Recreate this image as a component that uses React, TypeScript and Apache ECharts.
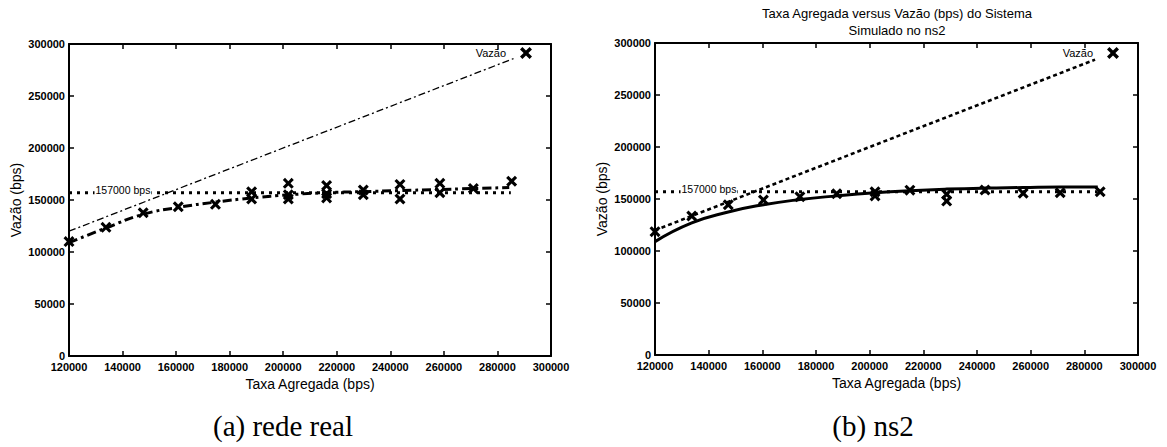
import React, { useEffect, useRef } from "react";
import * as echarts from "echarts";

// ---- data ----
const xTicksMin = 120000;
const xTicksMax = 300000;
const yMax = 300000;

// (a) rede real: measured throughput points
const realX = [120000, 133800, 147700, 160800, 174700, 188200, 188200, 201900, 201900, 201900, 216200, 216200, 216200, 229900, 229900, 243600, 243600, 258500, 258500, 271000, 285300];
const realY = [110000, 123700, 137800, 143500, 145800, 158000, 151000, 166000, 155000, 151000, 164000, 156000, 152000, 159600, 155000, 165000, 151000, 166000, 157000, 161000, 168000];
// (a) fitted curve
const realFitX = [120000, 133700, 147400, 161100, 174800, 188500, 202200, 215900, 229600, 243300, 257000, 270700, 284400];
const realFitY = [109000, 123000, 136000, 143000, 148000, 152000, 155000, 157000, 158000, 159000, 160000, 161000, 162000];

// (b) ns2: simulated throughput points
const simX = [120000, 133700, 147300, 160400, 174000, 187700, 202000, 202000, 215000, 228700, 228700, 243000, 257200, 271000, 285900];
const simY = [118600, 133600, 144500, 149000, 152200, 155000, 157000, 153000, 158500, 154500, 148000, 158600, 155500, 156000, 157000];
// (b) fitted curve
const simFitX = [120000, 133700, 147300, 160400, 174000, 187700, 202000, 215000, 228700, 243000, 257000, 271000, 285000];
const simFitY = [109000, 127000, 137500, 144500, 149500, 153000, 156000, 158000, 159500, 160500, 161000, 161500, 161500];

// ideal line (Vazão = Taxa) endpoints
const idealA = [120000, 286000];
const idealB = [120000, 284000];
// capacity line
const capacity = 157000;
const capacityX = [120000, 285000];

const xAxisTitle = "Taxa Agregada (bps)";
const yAxisTitle = "Vazão (bps)";
const legendName = "Vazão";
const capacityLabel = "157000 bps";
const chartTitle = "Taxa Agregada versus Vazão (bps) do Sistema\nSimulado no ns2";
const captionA = "(a) rede real";
const captionB = "(b) ns2";

const X_MARK = "path://M0,2L2,0L5,3L8,0L10,2L7,5L10,8L8,10L5,7L2,10L0,8L3,5Z";

const zip = (xs: number[], ys: number[]) => xs.map((x, i) => [x, ys[i]]);

export default function App() {
  const ref = useRef<HTMLDivElement>(null);
  useEffect(() => {
    document.body.style.margin = "0";
    const chart = echarts.init(ref.current!, null, { renderer: "svg" });
    const sans = "Liberation Sans";
    const tickLabel = {
      color: "#000",
      fontFamily: sans,
      fontSize: 11,
      fontWeight: "bold",
      margin: 5,
      formatter: (v: number) => String(v),
    };
    const axisLine = { show: true, onZero: false, lineStyle: { color: "#000", width: 2 } };
    const axisTick = { show: true, inside: true, length: 5, lineStyle: { color: "#000", width: 1.5 } };
    const nameStyle = { color: "#000", fontFamily: sans, fontSize: 14 };

    const mkX = (grid: number) => [
      {
        gridIndex: grid, type: "value", min: xTicksMin, max: xTicksMax, interval: 20000, position: "bottom",
        name: xAxisTitle, nameLocation: "middle", nameGap: 19, nameTextStyle: nameStyle,
        axisLine, axisTick, axisLabel: tickLabel, splitLine: { show: false },
      },
      {
        gridIndex: grid, type: "value", min: xTicksMin, max: xTicksMax, interval: 20000, position: "top",
        axisLine, axisTick, axisLabel: { show: false }, splitLine: { show: false },
      },
    ];
    const mkY = (grid: number, gap: number) => [
      {
        gridIndex: grid, type: "value", min: 0, max: yMax, interval: 50000, position: "left",
        name: yAxisTitle, nameLocation: "middle", nameGap: gap, nameTextStyle: nameStyle,
        axisLine, axisTick, axisLabel: { ...tickLabel, margin: 4 }, splitLine: { show: false },
      },
      {
        gridIndex: grid, type: "value", min: 0, max: yMax, interval: 50000, position: "right",
        axisLine, axisTick, axisLabel: { show: false }, splitLine: { show: false },
      },
    ];

    const capSeries = (ax: number) => ({
      type: "line", xAxisIndex: ax, yAxisIndex: ax, silent: true, symbol: "none", z: 2,
      lineStyle: { color: "#000", width: 3, type: [3, 5], cap: "butt" },
      data: [[capacityX[0], capacity], [capacityX[1], capacity]],
    });
    const capLabel = (ax: number) => ({
      type: "scatter", xAxisIndex: ax, yAxisIndex: ax, silent: true, z: 3,
      symbolSize: 1, itemStyle: { color: "rgba(0,0,0,0)", opacity: 1 },
      label: {
        show: true, position: "right", distance: 0, offset: [25, -3], formatter: capacityLabel,
        color: "#000", opacity: 1, fontFamily: sans, fontSize: 10.5, backgroundColor: "#fff", padding: [0, 1],
      },
      data: [[capacityX[0], capacity]],
    });

    chart.setOption({
      animation: false,
      backgroundColor: "#fff",
      title: [
        {
          text: chartTitle, left: 897, top: 5, textAlign: "center", padding: 0,
          textStyle: { color: "#000", fontFamily: sans, fontSize: 13, fontWeight: "normal", lineHeight: 17 },
        },
        {
          text: captionA, left: 283, top: 411, textAlign: "center", padding: 0,
          textStyle: { color: "#000", fontFamily: "Liberation Serif", fontSize: 29, fontWeight: "normal" },
        },
        {
          text: captionB, left: 873, top: 411, textAlign: "center", padding: 0,
          textStyle: { color: "#000", fontFamily: "Liberation Serif", fontSize: 29, fontWeight: "normal" },
        },
      ],
      legend: [
        {
          data: [legendName], right: 1167 - 532, top: 47, align: "right", icon: X_MARK,
          itemWidth: 12, itemHeight: 12, padding: 0,
          textStyle: { color: "#000", fontFamily: sans, fontSize: 11, padding: [0, 9, 0, 0] },
        },
        {
          data: [legendName], right: 1167 - 1119, top: 47, align: "right", icon: X_MARK,
          itemWidth: 12, itemHeight: 12, padding: 0,
          textStyle: { color: "#000", fontFamily: sans, fontSize: 11, padding: [0, 9, 0, 0] },
        },
      ],
      grid: [
        { left: 69, top: 44, width: 482, height: 312 },
        { left: 655, top: 43, width: 483, height: 312 },
      ],
      xAxis: [...mkX(0), ...mkX(1)],
      yAxis: [...mkY(0, 46), ...mkY(1, 46)],
      series: [
        // (a)
        {
          name: "ideal-a", type: "line", xAxisIndex: 0, yAxisIndex: 0, symbol: "none", silent: true,
          lineStyle: { color: "#000", width: 1.3, type: [7, 3, 2, 3] },
          data: [[idealA[0], idealA[0]], [idealA[1], idealA[1]]],
        },
        capSeries(0),
        capLabel(0),
        {
          name: "fit-a", type: "line", xAxisIndex: 0, yAxisIndex: 0, symbol: "none", smooth: true, silent: true,
          lineStyle: { color: "#000", width: 3, type: [9, 4, 3, 4] },
          data: zip(realFitX, realFitY),
        },
        {
          name: legendName, type: "scatter", xAxisIndex: 0, yAxisIndex: 0, symbol: X_MARK, symbolSize: 11, z: 5,
          itemStyle: { color: "#000", opacity: 1 },
          data: zip(realX, realY),
        },
        // (b)
        {
          name: "ideal-b", type: "line", xAxisIndex: 2, yAxisIndex: 2, symbol: "none", silent: true,
          lineStyle: { color: "#000", width: 2.6, type: [4, 3], cap: "butt" },
          data: [[idealB[0], idealB[0]], [idealB[1], idealB[1]]],
        },
        capSeries(2),
        capLabel(2),
        {
          name: "fit-b", type: "line", xAxisIndex: 2, yAxisIndex: 2, symbol: "none", smooth: true, silent: true,
          lineStyle: { color: "#000", width: 3 },
          data: zip(simFitX, simFitY),
        },
        {
          name: legendName, type: "scatter", xAxisIndex: 2, yAxisIndex: 2, symbol: X_MARK, symbolSize: 11, z: 5,
          itemStyle: { color: "#000", opacity: 1 },
          data: zip(simX, simY),
        },
      ],
    });
    return () => chart.dispose();
  }, []);
  return <div ref={ref} style={{ width: 1167, height: 447 }} />;
}
